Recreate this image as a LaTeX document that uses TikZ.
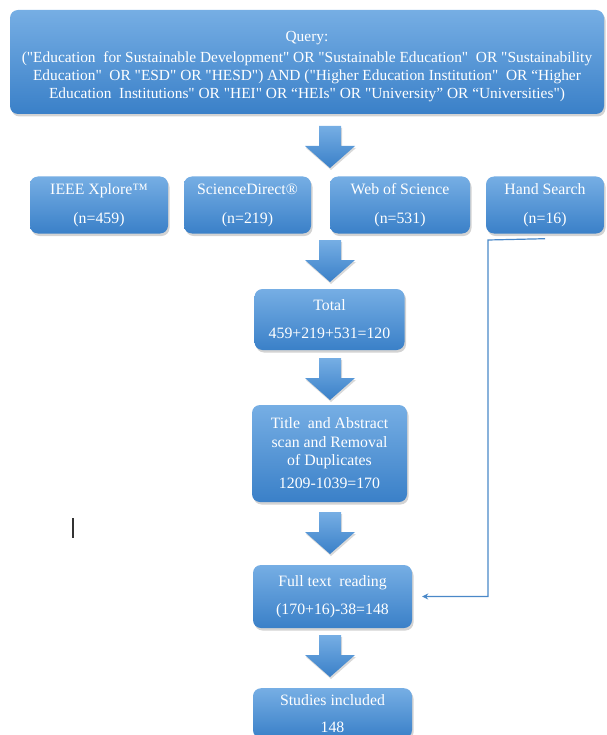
\documentclass[tikz,border=0pt]{standalone}
\usepackage{fontspec}
\setmainfont{Liberation Serif}[Ligatures=TeXOff]
\usetikzlibrary{shadows,calc,arrows.meta}
\definecolor{btop}{RGB}{118,174,228}
\definecolor{bbot}{RGB}{58,128,200}
\definecolor{lineblue}{RGB}{74,136,200}
\begin{document}
\begin{tikzpicture}[x=1pt,y=-1pt,
  box/.style={rounded corners=8pt, top color=btop, bottom color=bbot, draw=none,
    text=white, align=center, inner sep=0pt, font=\fontsize{15.8}{19}\selectfont,
    drop shadow={shadow xshift=1.5pt, shadow yshift=-2.5pt, opacity=0.35}},
  flowline/.style={draw=lineblue, line width=1.2pt, -{Stealth[length=6pt,width=6pt]}},
  pics/downarrow/.style={code={
    \path[top color=btop, bottom color=bbot,
      drop shadow={shadow xshift=1pt, shadow yshift=-2pt, opacity=0.3}]
      (-11,0) -- (11,0) -- (11,20) -- (25,20) -- (0,42) -- (-25,20) -- (-11,20) -- cycle;}}
]
\useasboundingbox (0,0) rectangle (606,735);

\node[box, minimum width=594pt, minimum height=104pt, font=\fontsize{15.4}{18}\selectfont] (q) at (307,62)
  {\rule{0pt}{19pt}Query:\\[3pt]
   ("Education\ \ for Sustainable Development" OR "Sustainable Education"\ \ OR "Sustainability\\
   Education"\ \ OR "ESD" OR "HESD") AND ("Higher Education Institution"\ \ OR “Higher\\
   Education\ \ Institutions" OR "HEI" OR “HEIs" OR "University” OR “Universities")};

\node[box, minimum width=138pt, minimum height=57pt] (ieee) at (99,205) {IEEE Xplore™\\[10pt](n=459)};
\node[box, minimum width=127pt, minimum height=57pt] (sd) at (247.5,205) {ScienceDirect®\\[10pt](n=219)};
\node[box, minimum width=140pt, minimum height=57pt] (wos) at (400,205) {Web of Science\\[10pt](n=531)};
\node[box, minimum width=118pt, minimum height=57pt] (hs) at (545,205) {Hand Search\\[10pt](n=16)};

\node[box, minimum width=150pt, minimum height=61pt] (tot) at (329.5,319.5) {Total\\[9pt]459+219+531=120};
\node[box, minimum width=155pt, minimum height=97pt, font=\fontsize{15.8}{18.5}\selectfont] (tas) at (329.5,453.5)
  {Title\ \ and Abstract\\scan and Removal\\of Duplicates\\[4.5pt]1209-1039=170};
\node[box, minimum width=159pt, minimum height=63pt] (ftr) at (332.5,596.5) {Full text\ \ reading\\[9pt](170+16)-38=148};
\node[box, minimum width=159pt, minimum height=50pt, anchor=north] (stu) at (332.5,688) {Studies included\\[8pt]148};

\pic at (330,126) {downarrow};
\pic at (330,240) {downarrow};
\pic at (330,358) {downarrow};
\pic at (330,512) {downarrow};
\pic at (330,635) {downarrow};

\coordinate (bend) at (488,240);
\draw[flowline] ([yshift=-5pt]hs.south) -- (bend) |- ([xshift=10pt]ftr.east);

\draw[line width=1.4pt, black!80] (73,518) -- (73,538);
\end{tikzpicture}
\end{document}
